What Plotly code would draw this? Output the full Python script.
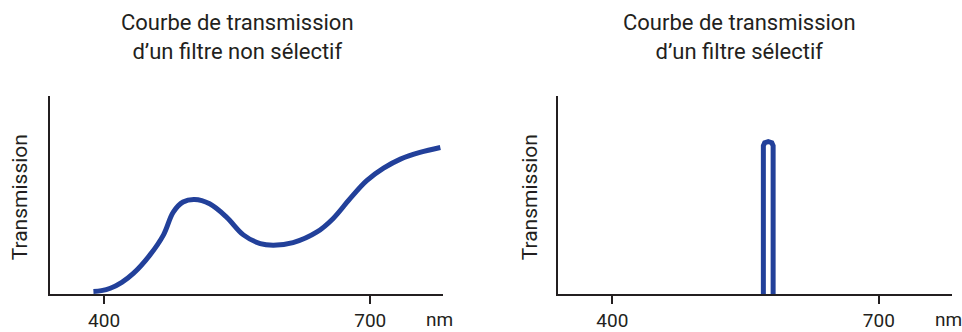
import plotly.graph_objects as go

# ---- data ----
wl_nonsel = [388, 397, 407, 420, 433, 452, 467, 478, 489, 502, 519, 538, 557, 576, 591, 613, 640, 658, 677, 696, 715, 734, 756, 779]
tr_nonsel = [0.014, 0.018, 0.03, 0.06, 0.105, 0.20, 0.30, 0.415, 0.466, 0.479, 0.457, 0.39, 0.30, 0.256, 0.248, 0.261, 0.315, 0.382, 0.482, 0.574, 0.637, 0.683, 0.717, 0.742]

wl_sel = [570, 570, 571.5, 575.5, 579.5, 581, 581]
tr_sel = [0, 0.750, 0.766, 0.772, 0.766, 0.750, 0]

tick_vals = [400, 700]
tick_text = ["400", "700"]
unit_label = "nm"
y_label = "Transmission"
titles = ["Courbe de transmission<br>d\u2019un filtre non sélectif",
          "Courbe de transmission<br>d\u2019un filtre sélectif"]

FONT = "Liberation Sans Narrow, Arial Narrow, Roboto, Arial, sans-serif"
BLUE = "#22409a"
INK = "#231f20"
W, H = 962, 332

fig = go.Figure()
fig.add_trace(go.Scatter(x=wl_nonsel, y=tr_nonsel, mode="lines",
                         line=dict(color=BLUE, width=5, shape="spline", smoothing=1.0),
                         xaxis="x", yaxis="y", showlegend=False, hoverinfo="skip"))
fig.add_trace(go.Scatter(x=wl_sel, y=tr_sel, mode="lines",
                         line=dict(color=BLUE, width=5),
                         xaxis="x2", yaxis="y2", showlegend=False, hoverinfo="skip"))

xrng = [338.5, 782]
ydom = [(H - 296) / H, (H - 97) / H]
xcommon = dict(range=xrng, showgrid=False, zeroline=False, showline=True, linecolor=INK, linewidth=2,
               ticks="outside", ticklen=8, tickwidth=2, tickcolor=INK,
               tickvals=tick_vals, ticktext=tick_text,
               tickfont=dict(family=FONT, size=19, color=INK), fixedrange=True)
ycommon = dict(range=[0, 1], domain=ydom, showgrid=False, zeroline=False, showline=True, linecolor=INK,
               linewidth=2, showticklabels=False, ticks="", fixedrange=True)

fig.update_layout(
    width=W, height=H, margin=dict(l=0, r=0, t=0, b=0),
    paper_bgcolor="white", plot_bgcolor="white",
    xaxis=dict(domain=[49.5 / W, 443 / W], anchor="y", **xcommon),
    yaxis=dict(anchor="x", **ycommon),
    xaxis2=dict(domain=[557.7 / W, 951.7 / W], anchor="y2", **xcommon),
    yaxis2=dict(anchor="x2", **ycommon),
)

ann = []
for xc, t in zip([237 / W, 739 / W], titles):
    ann.append(dict(text=t, x=xc, y=(H - 37) / H, xref="paper", yref="paper", xanchor="center",
                    yanchor="middle", showarrow=False, font=dict(family=FONT, size=22, color=INK)))
for xc in [20 / W, 530 / W]:
    ann.append(dict(text=y_label, x=xc, y=(H - 198.5) / H, xref="paper", yref="paper", xanchor="center",
                    yanchor="middle", textangle=-90, showarrow=False, font=dict(family=FONT, size=21, color=INK)))
for xr in ["x", "x2"]:
    ann.append(dict(text=unit_label, x=778, y=(H - 321) / H, xref=xr, yref="paper", xanchor="center",
                    yanchor="middle", showarrow=False, font=dict(family=FONT, size=19, color=INK)))
fig.update_layout(annotations=ann)

fig.write_html("out.html", config={"displayModeBar": False},
               post_script="document.body.style.margin='0';document.body.style.overflow='hidden';")
